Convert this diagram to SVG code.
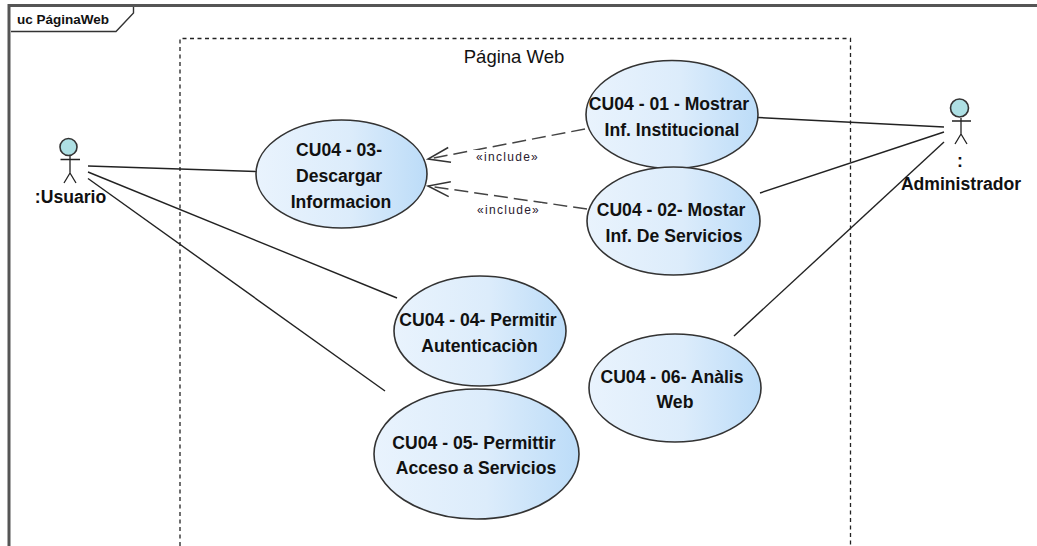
<svg xmlns="http://www.w3.org/2000/svg" width="1037" height="546" viewBox="0 0 1037 546">
<defs>
<linearGradient id="g" x1="0" y1="0" x2="1" y2="0"><stop offset="0" stop-color="#e9f3fd"/><stop offset="0.55" stop-color="#dcecfb"/><stop offset="1" stop-color="#bcdcf8"/></linearGradient>
<marker id="open" markerUnits="userSpaceOnUse" markerWidth="26" markerHeight="20" refX="24" refY="10" orient="auto"><path d="M2 2.5L24 10L2 17.500" fill="none" stroke="#333" stroke-width="1.500"/></marker>
</defs>
<style>
text{font-family:"Liberation Sans",Arial,sans-serif;fill:#111}
.uc ellipse{fill:url(#g);stroke:#333;stroke-width:1.6}
.uc text{font-size:17.6px;font-weight:700;text-anchor:middle}
.ln{stroke:#222;stroke-width:1.4;fill:none}
.inc{stroke:#444;stroke-width:1.5;fill:none;stroke-dasharray:14 6}
.st{font-size:12px;letter-spacing:1.3px;fill:#2a2030}
.actor circle{fill:#aee0e4;stroke:#333;stroke-width:1.6}
.actor path{fill:none;stroke:#222;stroke-width:1.3}
.actor text{font-size:17.6px;font-weight:700;text-anchor:middle}
</style>
<rect width="1037" height="546" fill="#fff"/>
<g id="frame">
<path d="M9 546V5.500H1037" fill="none" stroke="#555" stroke-width="3"/>
<path d="M11 31.500H116L133.500 13V7" fill="none" stroke="#333" stroke-width="1.400"/>
<text x="17" y="24" font-size="13.500" font-weight="700">uc PáginaWeb</text>
</g>
<g id="system">
<path d="M180 546V38.500H850.500V546" fill="none" stroke="#222" stroke-width="1.300" stroke-dasharray="4 3.500"/>
<text x="514" y="63" font-size="18.500" text-anchor="middle" fill="#222">Página Web</text>
</g>
<g id="connectors">
<path class="ln" d="M88 166L257 171.500"/>
<path class="ln" d="M88 172L397 298"/>
<path class="ln" d="M88 178.500L385 391"/>
<path class="ln" d="M758 117.500L944 127"/>
<path class="ln" d="M760 193L944 132"/>
<path class="ln" d="M734 336L944 142"/>
<path class="inc" d="M585 129L428 159" marker-end="url(#open)"/>
<path class="inc" d="M587 209L428 186" marker-end="url(#open)"/>
<rect x="473" y="150" width="70" height="14" fill="#fff"/>
<rect x="474" y="203" width="68" height="14" fill="#fff"/>
<text class="st" x="476" y="161">«include»</text>
<text class="st" x="477" y="214">«include»</text>
</g>
<g id="cu01" class="uc"><ellipse cx="672" cy="114.500" rx="86" ry="54"/><text x="669" y="109.500">CU04 - 01 - Mostrar</text><text x="672" y="135.500">Inf. Institucional</text></g>
<g id="cu02" class="uc"><ellipse cx="673.500" cy="221" rx="86.500" ry="54"/><text x="671" y="216">CU04 - 02- Mostar</text><text x="674" y="242">Inf. De Servicios</text></g>
<g id="cu03" class="uc"><ellipse cx="341.500" cy="174" rx="85.500" ry="54"/><text x="339" y="156">CU04 - 03-</text><text x="339" y="182">Descargar</text><text x="341" y="208">Informacion</text></g>
<g id="cu04" class="uc"><ellipse cx="480" cy="331" rx="86" ry="55"/><text x="478" y="326">CU04 - 04- Permitir</text><text x="479.500" y="352">Autenticaciòn</text></g>
<g id="cu05" class="uc"><ellipse cx="476.500" cy="454" rx="102.500" ry="65"/><text x="474" y="449">CU04 - 05- Permittir</text><text x="476" y="474">Acceso a Servicios</text></g>
<g id="cu06" class="uc"><ellipse cx="675" cy="388" rx="86" ry="54"/><text x="672" y="383">CU04 - 06- Anàlis</text><text x="675" y="408">Web</text></g>
<g id="usuario" class="actor"><circle cx="68.500" cy="147" r="8.500"/><path d="M70 156V173M60.500 159.500H80M70 173L64 183M70 173L76 183"/><text x="70.500" y="203">:Usuario</text></g>
<g id="administrador" class="actor"><circle cx="959.500" cy="108" r="9"/><path d="M961 118V134M952 121H971M961 134L955 144M961 134L967 144"/><text x="960" y="167">:</text><text x="961" y="190">Administrador</text></g>
</svg>
